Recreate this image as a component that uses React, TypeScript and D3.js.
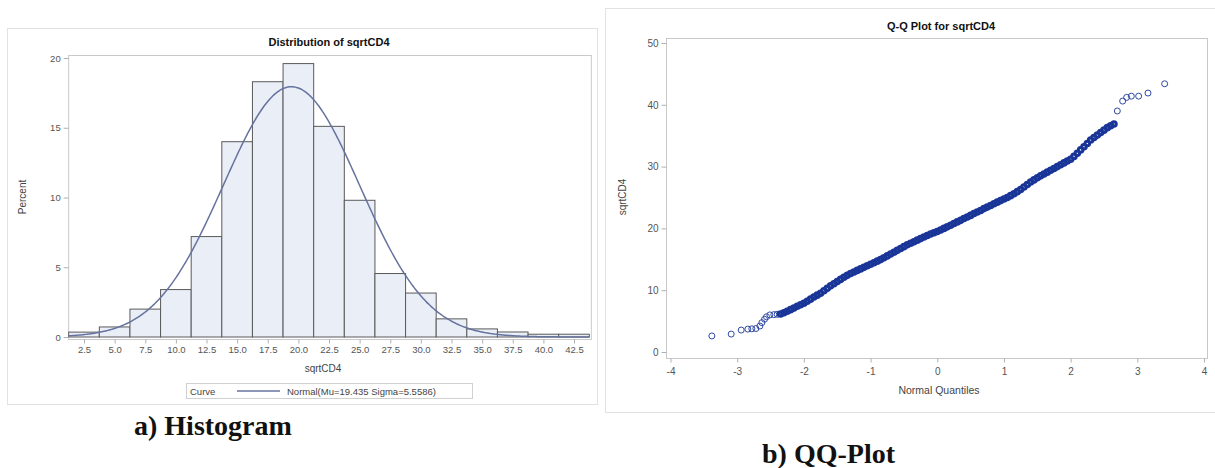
import React, { useEffect, useRef } from 'react';
import * as d3 from 'd3';

// Histogram: bin midpoints and percent per bin
const binMids = [2.5, 5.0, 7.5, 10.0, 12.5, 15.0, 17.5, 20.0, 22.5, 25.0, 27.5, 30.0, 32.5, 35.0, 37.5, 40.0, 42.5];
const binPercents = [0.35, 0.72, 2.0, 3.4, 7.2, 14.0, 18.3, 19.6, 15.1, 9.8, 4.55, 3.15, 1.3, 0.58, 0.36, 0.2, 0.2];
const binWidth = 2.5;
const histYTicks = [0, 5, 10, 15, 20];

// Fitted normal curve (from the legend)
const normalMu = 19.435;
const normalSigma = 5.5586;

// Q-Q plot: normal quantiles and sqrtCD4 values
const qqQuantiles = [
  -3.38, -3.09, -2.94, -2.84, -2.78, -2.72, -2.66, -2.63, -2.59, -2.56, -2.51, -2.45, -2.40,
  -2.35, -2.30, -2.25, -2.20, -2.15, -2.10, -2.05, -2.00, -1.95, -1.90, -1.85, -1.80, -1.75,
  -1.70, -1.65, -1.60, -1.55, -1.50, -1.45, -1.40, -1.35, -1.30, -1.25, -1.20, -1.15, -1.10,
  -1.05, -1.00, -0.95, -0.90, -0.85, -0.80, -0.75, -0.70, -0.65, -0.60, -0.55, -0.50, -0.45,
  -0.40, -0.35, -0.30, -0.25, -0.20, -0.15, -0.10, -0.05, 0.00, 0.05, 0.10, 0.15, 0.20, 0.25,
  0.30, 0.35, 0.40, 0.45, 0.50, 0.55, 0.60, 0.65, 0.70, 0.75, 0.80, 0.85, 0.90, 0.95, 1.00,
  1.05, 1.10, 1.15, 1.20, 1.25, 1.30, 1.35, 1.40, 1.45, 1.50, 1.55, 1.60, 1.65, 1.70, 1.75,
  1.80, 1.85, 1.90, 1.95, 2.00, 2.05, 2.10, 2.15, 2.20, 2.25, 2.30, 2.35, 2.40, 2.45, 2.50,
  2.55, 2.60, 2.65,
  2.70, 2.78, 2.84, 2.91, 3.02, 3.16, 3.41,
];
const qqValues = [
  2.6, 2.9, 3.55, 3.7, 3.75, 3.8, 4.2, 4.75, 5.3, 5.7, 6.0, 6.05, 6.1,
  6.15, 6.35, 6.6, 6.85, 7.1, 7.4, 7.65, 7.9, 8.2, 8.55, 8.9, 9.2, 9.5,
  9.9, 10.3, 10.7, 11.05, 11.4, 11.75, 12.1, 12.4, 12.7, 12.95, 13.2, 13.45, 13.7,
  13.95, 14.2, 14.45, 14.7, 14.95, 15.25, 15.55, 15.85, 16.15, 16.45, 16.75, 17.05, 17.35,
  17.6, 17.85, 18.1, 18.35, 18.6, 18.85, 19.1, 19.3, 19.5, 19.75, 20.0, 20.25, 20.5, 20.8,
  21.05, 21.3, 21.6, 21.85, 22.1, 22.4, 22.65, 22.9, 23.2, 23.45, 23.7, 24.0, 24.25, 24.5, 24.75,
  25.0, 25.3, 25.6, 25.95, 26.3, 26.7, 27.1, 27.5, 27.85, 28.2, 28.5, 28.8, 29.1, 29.4, 29.7,
  30.0, 30.3, 30.6, 30.9, 31.2, 31.65, 32.15, 32.7, 33.2, 33.75, 34.3, 34.7, 35.1, 35.5, 35.9,
  36.3, 36.6, 36.9,
  39.0, 40.6, 41.2, 41.4, 41.4, 41.9, 43.4,
];
const qqXTicks = [-4, -3, -2, -1, 0, 1, 2, 3, 4];
const qqYTicks = [0, 10, 20, 30, 40, 50];

const sans = '"Liberation Sans", Arial, sans-serif';
const serif = '"Liberation Serif", "Times New Roman", serif';

const App = () => {
  const ref = useRef<SVGSVGElement>(null);

  useEffect(() => {
    const svg = d3.select(ref.current);
    svg.selectAll('*').remove();

    // ---------- panel a) histogram ----------
    svg.append('rect')
      .attr('x', 7.5).attr('y', 28.5).attr('width', 590).attr('height', 376)
      .attr('fill', 'white').attr('stroke', '#e2e2e2');

    const hx = d3.scaleLinear().domain([2.5, 42.5]).range([84, 574]);
    const hy = d3.scaleLinear().domain([0, 20]).range([337, 58]);
    const hLeft = hx(binMids[0] - binWidth / 2);
    const hRight = hx(binMids[binMids.length - 1] + binWidth / 2) + 2;

    svg.append('rect')
      .attr('x', hLeft).attr('y', 55.5)
      .attr('width', hRight - hLeft).attr('height', 284)
      .attr('fill', 'white').attr('stroke', '#c9c9c9');

    svg.append('text')
      .attr('x', 329).attr('y', 46)
      .attr('text-anchor', 'middle')
      .attr('font-family', sans).attr('font-size', 11).attr('font-weight', 'bold')
      .attr('fill', '#111')
      .text('Distribution of sqrtCD4');

    svg.selectAll('.bar')
      .data(binMids)
      .enter()
      .append('rect')
      .attr('class', 'bar')
      .attr('x', d => hx(d - binWidth / 2))
      .attr('width', d => hx(d + binWidth / 2) - hx(d - binWidth / 2))
      .attr('y', (d, i) => hy(binPercents[i]))
      .attr('height', (d, i) => hy(0) - hy(binPercents[i]))
      .attr('fill', '#e9eef7')
      .attr('stroke', '#5a5a5a')
      .attr('stroke-width', 1);

    const curveXs = d3.range(binMids[0] - binWidth / 2, binMids[binMids.length - 1] + binWidth / 2 + 0.01, 0.1);
    const pdf = (x: number) =>
      (100 * binWidth) / (normalSigma * Math.sqrt(2 * Math.PI)) *
      Math.exp(-((x - normalMu) ** 2) / (2 * normalSigma ** 2));
    svg.append('path')
      .datum(curveXs)
      .attr('d', d3.line<number>().x(d => hx(d)).y(d => hy(pdf(d))).curve(d3.curveBasis))
      .attr('fill', 'none')
      .attr('stroke', '#66739e')
      .attr('stroke-width', 1.5);

    const hyAxis = svg.append('g')
      .attr('transform', `translate(${hLeft},0)`)
      .call(d3.axisLeft(hy).tickValues(histYTicks).tickSize(5).tickPadding(3));
    const hxAxis = svg.append('g')
      .attr('transform', `translate(0,339.5)`)
      .call(d3.axisBottom(hx).tickValues(binMids).tickFormat(d3.format('.1f')).tickSize(4).tickPadding(3));
    [hyAxis, hxAxis].forEach(g => {
      g.select('.domain').remove();
      g.selectAll('line').attr('stroke', '#b0b0b0');
      g.selectAll('text').attr('font-family', sans).attr('font-size', 9.5).attr('fill', '#555');
    });

    svg.append('text')
      .attr('x', 323).attr('y', 372)
      .attr('text-anchor', 'middle')
      .attr('font-family', sans).attr('font-size', 10).attr('fill', '#444')
      .text('sqrtCD4');
    svg.append('text')
      .attr('transform', 'translate(26,197) rotate(-90)')
      .attr('text-anchor', 'middle')
      .attr('font-family', sans).attr('font-size', 10).attr('fill', '#444')
      .text('Percent');

    // legend
    const legend = svg.append('g');
    legend.append('rect')
      .attr('x', 186.5).attr('y', 383.5).attr('width', 286).attr('height', 15)
      .attr('fill', 'white').attr('stroke', '#d0d0d0');
    legend.append('text')
      .attr('x', 190).attr('y', 394.5)
      .attr('font-family', sans).attr('font-size', 9.5).attr('fill', '#444')
      .text('Curve');
    legend.append('line')
      .attr('x1', 237).attr('x2', 280).attr('y1', 391).attr('y2', 391)
      .attr('stroke', '#66739e').attr('stroke-width', 1.5);
    legend.append('text')
      .attr('x', 287).attr('y', 394.5)
      .attr('font-family', sans).attr('font-size', 9.5).attr('fill', '#444')
      .text(`Normal(Mu=${normalMu} Sigma=${normalSigma})`);

    // ---------- panel b) Q-Q plot ----------
    svg.append('rect')
      .attr('x', 605.5).attr('y', 8.5).attr('width', 612).attr('height', 404)
      .attr('fill', 'white').attr('stroke', '#e2e2e2');

    const qx = d3.scaleLinear().domain([-4, 4]).range([670.5, 1204]);
    const qy = d3.scaleLinear().domain([0, 50]).range([352, 43]);

    svg.append('rect')
      .attr('x', 666.5).attr('y', 38.5).attr('width', 541).attr('height', 320)
      .attr('fill', 'white').attr('stroke', '#c9c9c9');

    svg.append('text')
      .attr('x', 941).attr('y', 30)
      .attr('text-anchor', 'middle')
      .attr('font-family', sans).attr('font-size', 11).attr('font-weight', 'bold')
      .attr('fill', '#111')
      .text('Q-Q Plot for sqrtCD4');

    // dense middle of the sample overlaps into a solid band
    const dense = (i: number) => i >= 13 && i < qqQuantiles.length - 7;
    svg.append('g')
      .selectAll('circle')
      .data(qqQuantiles)
      .enter()
      .append('circle')
      .attr('cx', d => qx(d))
      .attr('cy', (d, i) => qy(qqValues[i]))
      .attr('r', (d, i) => (dense(i) ? 2.3 : 3))
      .attr('fill', 'none')
      .attr('stroke', (d, i) => (dense(i) ? '#1a3598' : '#2f4aa3'))
      .attr('stroke-width', (d, i) => (dense(i) ? 3 : 1));

    const qyAxis = svg.append('g')
      .attr('transform', 'translate(666.5,0)')
      .call(d3.axisLeft(qy).tickValues(qqYTicks).tickSize(5).tickPadding(3));
    const qxAxis = svg.append('g')
      .attr('transform', 'translate(0,358.5)')
      .call(d3.axisBottom(qx).tickValues(qqXTicks).tickFormat(d => String(d)).tickSize(4).tickPadding(5));
    [qyAxis, qxAxis].forEach(g => {
      g.select('.domain').remove();
      g.selectAll('line').attr('stroke', '#b0b0b0');
      g.selectAll('text').attr('font-family', sans).attr('font-size', 10).attr('fill', '#555');
    });

    svg.append('text')
      .attr('x', 939).attr('y', 394)
      .attr('text-anchor', 'middle')
      .attr('font-family', sans).attr('font-size', 10.5).attr('fill', '#444')
      .text('Normal Quantiles');
    svg.append('text')
      .attr('transform', 'translate(626,197) rotate(-90)')
      .attr('text-anchor', 'middle')
      .attr('font-family', sans).attr('font-size', 10).attr('fill', '#444')
      .text('sqrtCD4');

    // ---------- captions ----------
    svg.append('text')
      .attr('x', 134).attr('y', 435)
      .attr('font-family', serif).attr('font-size', 28).attr('font-weight', 'bold')
      .attr('fill', '#111')
      .text('a) Histogram');
    svg.append('text')
      .attr('x', 762).attr('y', 463)
      .attr('font-family', serif).attr('font-size', 28).attr('font-weight', 'bold')
      .attr('fill', '#111')
      .text('b) QQ-Plot');
  }, []);

  return (
    <svg
      ref={ref}
      width={1215}
      height={468}
      style={{ position: 'absolute', left: 0, top: 0, background: 'white' }}
    />
  );
};

export default App;
